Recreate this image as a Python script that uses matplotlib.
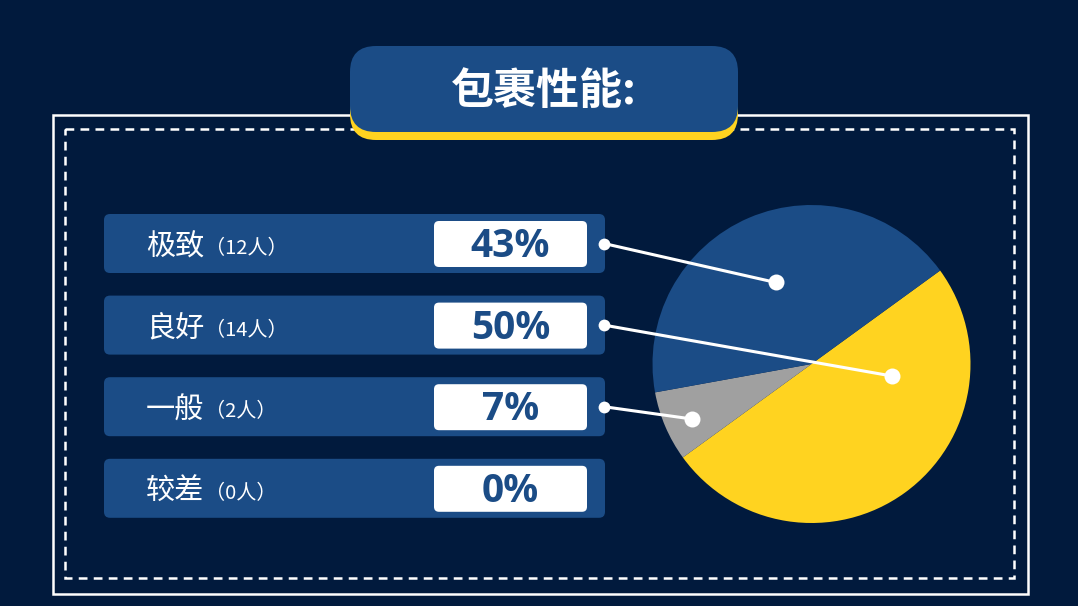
import numpy as np
import matplotlib.pyplot as plt
from matplotlib.patches import FancyBboxPatch, Rectangle

plt.rcParams['font.family'] = ['Noto Sans CJK SC', 'DejaVu Sans']

# data
categories = ['极致', '良好', '一般', '较差']
counts = [12, 14, 2, 0]
percents = ['43%', '50%', '7%', '0%']
title = '包裹性能:'

# where each connector ends inside the pie (screen angle in degrees, fraction of radius)
anchor_angle = [113.7, -8.5, 204.6, None]
anchor_frac = [0.56, 0.51, 0.83, None]

BG = '#011a3d'
BLUE = '#1b4c86'
YELLOW = '#ffd320'
GRAY = '#a0a0a0'
slice_colors = {'极致': BLUE, '良好': YELLOW, '一般': GRAY, '较差': '#dddddd'}

fig = plt.figure(figsize=(10.78, 6.06), dpi=100, facecolor=BG)
ax = fig.add_axes([0, 0, 1, 1])
ax.set_facecolor(BG)

# frames
ax.add_patch(Rectangle((52.5, 114.5), 975, 479, fill=False, ec='white', lw=1.8, zorder=1))
ax.add_patch(Rectangle((64.5, 128.5), 949, 449, fill=False, ec='white', lw=1.8,
                       linestyle=(0, (3.5, 2.5)), zorder=1))

# title badge
ax.add_patch(FancyBboxPatch((350, 54), 388, 86, boxstyle='round,pad=0,rounding_size=26',
                            fc=YELLOW, ec='none', zorder=2))
ax.add_patch(FancyBboxPatch((350, 46), 388, 86, boxstyle='round,pad=0,rounding_size=26',
                            fc=BLUE, ec='none', zorder=3))
ax.text(544, 91, title, color='white', fontsize=31, fontweight='heavy',
        ha='center', va='center', zorder=4)

# pie (y axis inverted -> counterclock in data is clockwise on screen)
cx, cy, r = 811.5, 364, 159
order = [i for i in (1, 2, 0) if counts[i] > 0]
ax.pie([counts[i] for i in order], colors=[slice_colors[categories[i]] for i in order],
       startangle=-36, counterclock=True, center=(cx, cy), radius=r,
       wedgeprops=dict(linewidth=0), frame=True)
ax.set_xlim(0, 1078)
ax.set_ylim(606, 0)   # pixel coordinates, y down
ax.set_aspect('equal')
ax.axis('off')

# rows
row_top0, row_step, row_h = 214, 81.6, 59
for i, (cat, n, pct) in enumerate(zip(categories, counts, percents)):
    top = row_top0 + i * row_step
    mid = top + row_h / 2
    ax.add_patch(FancyBboxPatch((104, top), 501, row_h, boxstyle='round,pad=0,rounding_size=6',
                                fc=BLUE, ec='none', zorder=2))
    ax.add_patch(FancyBboxPatch((434, top + 7), 153, 46, boxstyle='round,pad=0,rounding_size=5',
                                fc='white', ec='none', zorder=3))
    ax.text(146, mid + 4, cat, color='white', fontsize=21, ha='left', va='center', zorder=4)
    ax.text(205, mid + 5, f'（{n}人）', color='white', fontsize=14.5, ha='left', va='center', zorder=4)
    ax.text(510.5, mid + 3, pct, color=BLUE, fontsize=28, fontweight='bold',
            family=['Open Sans', 'DejaVu Sans'], ha='center', va='center', zorder=4)

    if anchor_angle[i] is not None:
        a = np.deg2rad(anchor_angle[i])
        ex = cx + r * anchor_frac[i] * np.cos(a)
        ey = cy - r * anchor_frac[i] * np.sin(a)
        ax.plot([604, ex], [mid, ey], color='white', lw=2.2, zorder=5, solid_capstyle='round')
        ax.plot(604, mid, 'o', color='white', ms=8.5, mec='none', zorder=6)
        ax.plot(ex, ey, 'o', color='white', ms=11.5, mec='none', zorder=6)

fig.savefig('out.png', dpi=100, facecolor=BG)
